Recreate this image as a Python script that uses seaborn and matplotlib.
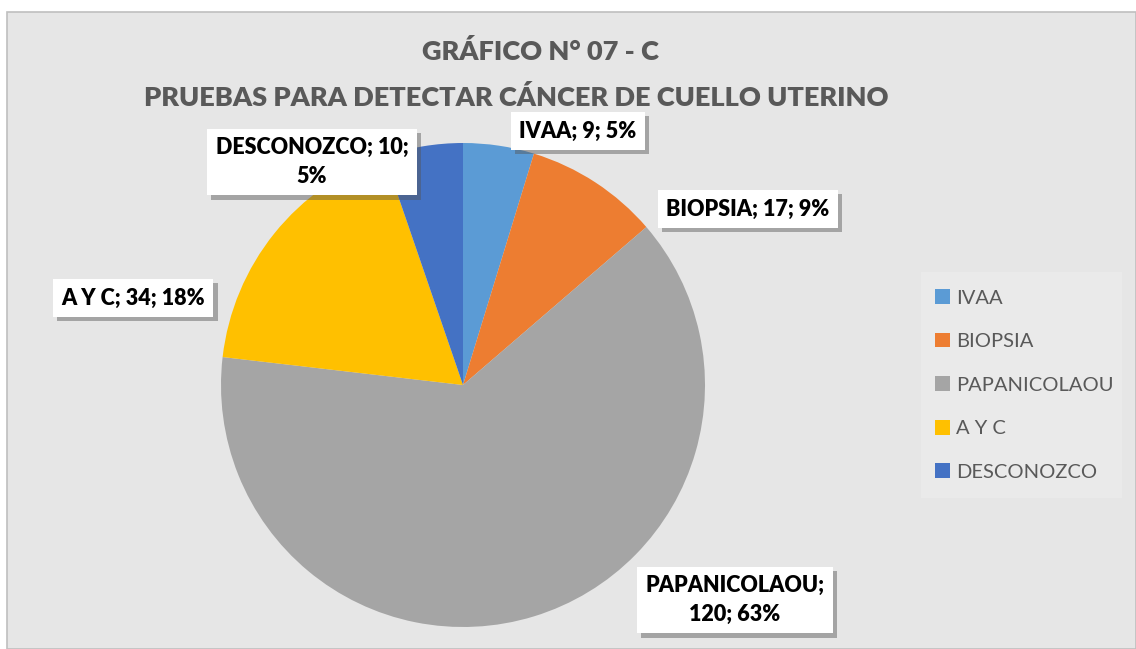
import matplotlib
matplotlib.use("Agg")
import matplotlib.pyplot as plt
import matplotlib.patheffects as pe
from matplotlib.patches import Rectangle
import seaborn as sns

# data
categorias = ["IVAA", "BIOPSIA", "PAPANICOLAOU", "A Y C", "DESCONOZCO"]
valores = [9, 17, 120, 34, 10]
porcentajes = [5, 9, 63, 18, 5]
titulo_1 = "GRÁFICO N° 07 - C"
titulo_2 = "PRUEBAS PARA DETECTAR CÁNCER DE CUELLO UTERINO"

sns.set_style("white")
plt.rcParams["font.family"] = ["Lato", "DejaVu Sans"]

colores = sns.color_palette(["#5B9BD5", "#ED7D31", "#A5A5A5", "#FFC000", "#4472C4"])

W, H = 1136, 649
fig = plt.figure(figsize=(W / 100, H / 100), dpi=100)
fig.patch.set_facecolor("white")

# chart area
fig.patches.append(Rectangle((7 / W, 0), 1 - 7 / W, 1 - 12 / H, transform=fig.transFigure,
                             facecolor="#E6E6E6", edgecolor="#BFBFBF", linewidth=1.2, zorder=-10))

# pie axes: center (463,385) px, radius 242 px
cx, cy, r = 463, 385, 242
ax = fig.add_axes([(cx - r) / W, (H - cy - r) / H, 2 * r / W, 2 * r / H])
ax.set_zorder(2)
ax.set_facecolor("none")
wedges, _ = ax.pie(valores, colors=colores, startangle=90, counterclock=False,
                   radius=1, wedgeprops=dict(linewidth=0))
ax.set_xlim(-1, 1)
ax.set_ylim(-1, 1)
ax.set_aspect("equal")
ax.axis("off")

# title
fig.text(540 / W, 1 - 52 / H, titulo_1, ha="center", va="center",
         fontsize=19.5, fontweight="heavy", color="#595959")
fig.text(516 / W, 1 - 97 / H, titulo_2, ha="center",
         va="center", fontsize=19.5, fontweight="heavy", color="#595959")

# data labels (positions as placed in the original)
pos_etiquetas = [(578, 131), (748, 209), (735, 600), (133, 298), (312, 162)]
textos = [
    f"{categorias[0]}; {valores[0]}; {porcentajes[0]}%",
    f"{categorias[1]}; {valores[1]}; {porcentajes[1]}%",
    f"{categorias[2]};\n{valores[2]}; {porcentajes[2]}%",
    f"{categorias[3]}; {valores[3]}; {porcentajes[3]}%",
    f"{categorias[4]}; {valores[4]};\n{porcentajes[4]}%",
]
for (px, py), txt in zip(pos_etiquetas, textos):
    t = fig.text(px / W, 1 - py / H, txt, ha="center", va="center", fontsize=15.5,
                 fontweight="heavy", color="black", linespacing=1.45, zorder=5,
                 bbox=dict(boxstyle="square,pad=0.4", facecolor="white", edgecolor="none"))
    t.get_bbox_patch().set_path_effects([
        pe.SimplePatchShadow(offset=(3, -3), shadow_rgbFace="#555555", alpha=0.45),
        pe.Normal()])

# legend
fig.patches.append(Rectangle((921 / W, 1 - 498 / H), 201 / W, 226 / H, transform=fig.transFigure,
                             facecolor="#EAEAEA", edgecolor="none", zorder=-5))
leg = fig.legend(wedges, categorias, loc="center left", bbox_to_anchor=(917 / W, 1 - 385 / H),
                 frameon=False, fontsize=14.5, labelcolor="#595959", handlelength=0.75,
                 handleheight=0.75, handletextpad=0.3, labelspacing=1.3)

fig.savefig("out.png", dpi=100, facecolor="white")
